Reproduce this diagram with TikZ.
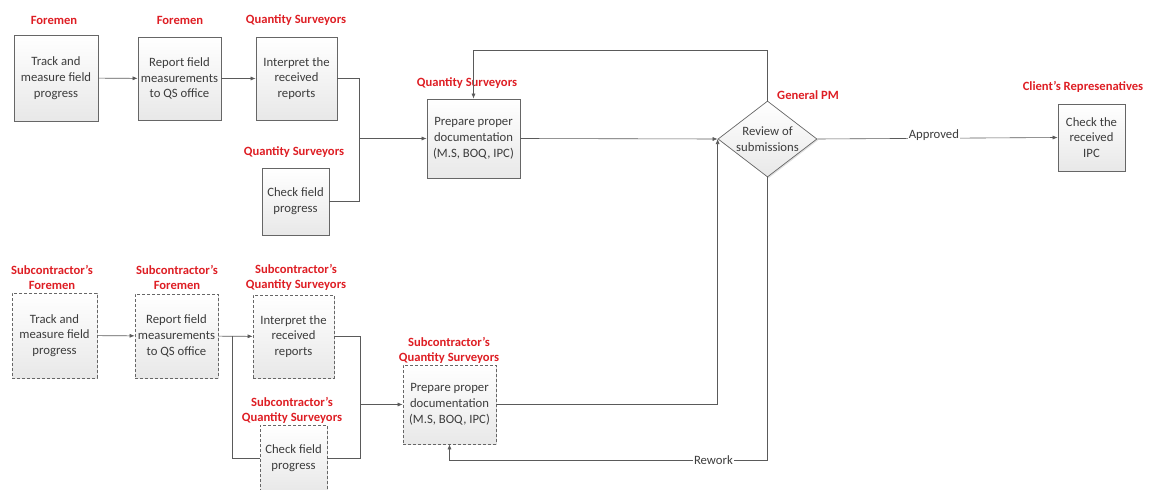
\documentclass[tikz,border=0pt]{standalone}
\usepackage{fontspec}
\setmainfont{Carlito}
\usetikzlibrary{arrows.meta,shapes.geometric,shadows}
\definecolor{lbl}{RGB}{222,30,36}
\definecolor{ln}{RGB}{90,90,90}
\definecolor{txt}{RGB}{60,60,60}
\tikzset{
  base/.style={draw=gray!80!black, line width=0.7pt, top color=white, bottom color=gray!18,
    text=txt, font=\fontsize{12.7}{15.7}\selectfont, align=center, inner sep=0pt,
    drop shadow={shadow xshift=1.2pt, shadow yshift=-1.2pt, opacity=0.25, fill=gray}},
  box/.style={base, rectangle},
  dbox/.style={base, rectangle, dash pattern=on 3pt off 2pt},
  dia/.style={base, diamond, aspect=1.3},
  role/.style={text=lbl, font=\bfseries\fontsize{12.6}{15}\selectfont, align=center, inner sep=0pt},
  conn/.style={draw=ln, line width=0.6pt},
  arr/.style={conn, -{Latex[length=5pt,width=4pt]}},
  lab/.style={text=txt, font=\fontsize{12.7}{14}\selectfont, inner sep=1pt}
}
\begin{document}
\begin{tikzpicture}[x=1pt,y=-1pt]
\useasboundingbox (0,0) rectangle (1160,490);
% top row
\node[box, minimum width=84, minimum height=86] (b1) at (56,78) {Track and\\measure field\\progress};
\node[box, minimum width=83, minimum height=83] (b2) at (179.5,78.5) {Report field\\measurements\\to QS office};
\node[box, minimum width=81, minimum height=83] (b3) at (296.5,78.5) {Interpret the\\received\\reports};
\node[box, minimum width=67, minimum height=67] (b4) at (295.5,201.5) {Check field\\progress};
\node[box, minimum width=93, minimum height=79] (b5) at (473.5,138.5) {Prepare proper\\documentation\\(M.S, BOQ, IPC)};
\node[dia, minimum width=99, minimum height=76, inner sep=0pt] (d) at (767.5,139) {Review of\\submissions};
\node[box, minimum width=67, minimum height=67] (ipc) at (1091.5,137.5) {Check the\\received\\IPC};
% bottom row
\node[dbox, minimum width=85, minimum height=85] (s1) at (54.5,335.5) {Track and\\measure field\\progress};
\node[dbox, minimum width=83, minimum height=84] (s2) at (176.5,336) {Report field\\measurements\\to QS office};
\node[dbox, minimum width=81, minimum height=83] (s3) at (293.5,336.5) {Interpret the\\received\\reports};
\node[dbox, minimum width=67, minimum height=67] (s4) at (293.5,458.5) {Check field\\progress};
\node[dbox, minimum width=93, minimum height=79] (s5) at (449.5,404.5) {Prepare proper\\documentation\\(M.S, BOQ, IPC)};
% role labels
\node[role] (r1) at (54,20) {Foremen};
\node[role] (r2) at (180,20) {Foremen};
\node[role] (r3) at (296,20) {Quantity Surveyors};
\node[role] (r4) at (294,152) {Quantity Surveyors};
\node[role] (r5) at (467,83) {Quantity Surveyors};
\node[role] (r6) at (808,95) {General PM};
\node[role] (r7) at (1083,87) {Client’s Represenatives};
\node[role] (q1) at (52,277.5) {Subcontractor’s\\Foremen};
\node[role] (q2) at (177,277.5) {Subcontractor’s\\Foremen};
\node[role] (q3) at (296,277) {Subcontractor’s\\Quantity Surveyors};
\node[role] (q4) at (292,410) {Subcontractor’s\\Quantity Surveyors};
\node[role] (q5) at (449,350) {Subcontractor’s\\Quantity Surveyors};
% junction coordinates
\coordinate (j1) at (359,138.5);
\coordinate (j2) at (360,404.5);
\coordinate (j3) at (232,336);
\coordinate (j4) at (360,458.5);
\coordinate (top) at (767.5,50);
\coordinate (rw) at (767.5,460);
% top connectors
\draw[arr] (b1) -- (b2);
\draw[arr] (b2) -- (b3);
\draw[conn] (b3.east) -| (j1);
\draw[conn] (b4.east) -| (j1);
\draw[arr] (j1) -- (b5.west);
\draw[arr] (b5.east) -- (d.west);
\draw[arr] (d.north) -- (top) -| (b5.north);
\draw[arr] (d.east) -- node[lab, fill=white, pos=0.485, yshift=3pt] (ap) {Approved} (ipc.west);
% bottom connectors
\draw[arr] (s1) -- (s2);
\draw[arr] (s2) -- (s3);
\draw[conn] (j3) |- (s4.west);
\draw[conn] (s3.east) -| (j4) -- (s4.east);
\draw[arr] (j2) -- (s5.west);
\draw[arr] (s5.east) -| (d.west);
\draw[arr] (d.south) -- (rw) -| node[lab, fill=white, pos=0.085] (rwl) {Rework} (s5.south);
\end{tikzpicture}
\end{document}
